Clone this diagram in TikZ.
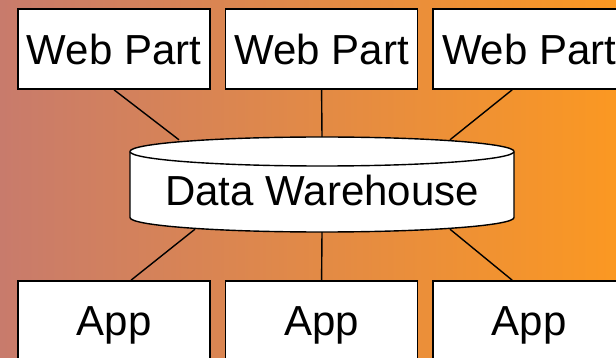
\documentclass[tikz,border=0pt]{standalone}
\usepackage{fontspec}
\setmainfont{Liberation Sans}
\usetikzlibrary{positioning}

\definecolor{bgleft}{RGB}{200,123,108}
\definecolor{bgmid}{RGB}{232,139,76}
\definecolor{bgright}{RGB}{251,152,34}

\begin{document}
\begin{tikzpicture}[x=1pt, y=1pt, node distance=14pt and 14pt]
		% Styles
		\tikzstyle{part} = [rectangle, draw, fill=white, line width=1.6pt,
		minimum width=192pt, minimum height=80pt, inner sep=0pt, text depth=0pt,
		font=\fontsize{42}{50}\selectfont]
		\tikzstyle{store} = [rectangle, minimum width=384pt, minimum height=95pt,
		inner sep=0pt, text height=43pt, text depth=0pt, font=\fontsize{42}{50}\selectfont]
		\tikzstyle{drum} = [draw, fill=white, line width=1.4pt]
		\tikzstyle{line} = [draw, line width=1.4pt]
		
		% Background
		\shade [left color=bgleft, middle color=bgmid, right color=bgright]
		(0,0) rectangle (616,-358);
		\useasboundingbox (0,0) rectangle (616,-358);
		
		% Cylinder
		\coordinate (dwc) at (322,-184.5);
		\path [drum] ([shift={(-192,33)}]dwc) -- ([shift={(-192,-33)}]dwc)
		arc [start angle=180, end angle=360, x radius=192pt, y radius=14.5pt]
		-- ([shift={(192,33)}]dwc)
		arc [start angle=0, end angle=180, x radius=192pt, y radius=14.5pt] -- cycle;
		\path [drum] ([shift={(-192,33)}]dwc)
		arc [start angle=180, end angle=360, x radius=192pt, y radius=14.5pt];
		
		% Nodes
		\node [part] (web1) at (114,-49) {Web Part};
		\node [part, right=of web1] (web2) {Web Part};
		\node [part, right=of web2] (web3) {Web Part};
		\node [store] (dw) at (dwc) {Data Warehouse};
		\node [part] (app1) at (114,-321) {App};
		\node [part, right=of app1] (app2) {App};
		\node [part, right=of app2] (app3) {App};
		
		% Connections
		\path [line] (web1.south) -- ([xshift=-143pt, yshift=-3pt]dw.north);
		\path [line] (web2.south) -- (dw.north);
		\path [line] ([xshift=-17pt]web3.south) -- ([xshift=128pt, yshift=-3pt]dw.north);
		\path [line] ([xshift=-127pt, yshift=3pt]dw.south) -- ([xshift=17pt]app1.north);
		\path [line] (dw.south) -- (app2.north);
		\path [line] ([xshift=128pt, yshift=3pt]dw.south) -- ([xshift=-17pt]app3.north);
	\end{tikzpicture}
\end{document}
